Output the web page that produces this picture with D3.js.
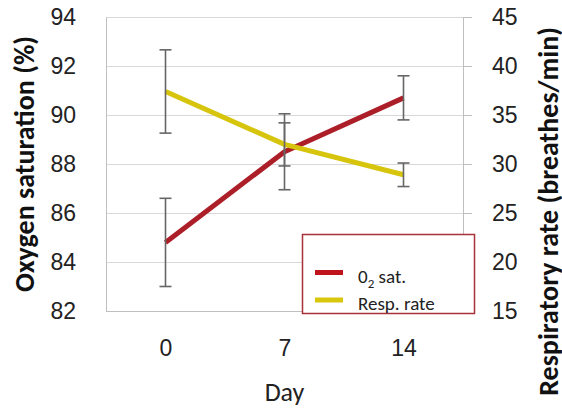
<!DOCTYPE html>
<html>
<head>
<meta charset="utf-8">
<script src="https://cdn.jsdelivr.net/npm/d3@7"></script>
<style>
  body { margin:0; background:#fff; }
  svg { font-family: Carlito, Lato, "Open Sans", sans-serif; }
</style>
</head>
<body>
<script>
// data
var days = ["0", "7", "14"];
var o2Sat = [84.8, 88.5, 90.7];
var o2Err = [1.8, 1.55, 0.9];
var respRate = [37.4, 32.0, 28.9];
var respErr = [4.25, 2.2, 1.2];
var leftTicks = [82, 84, 86, 88, 90, 92, 94];
var rightTicks = [15, 20, 25, 30, 35, 40, 45];

var W = 562, H = 412;
var pLeft = 106, pRight = 463, pTop = 17, pBottom = 311;

var svg = d3.select("body").append("svg")
  .attr("width", W).attr("height", H);

var x = d3.scalePoint().domain(days).range([pLeft, pRight]).padding(0.5);
var yL = d3.scaleLinear().domain([82, 94]).range([pBottom, pTop]);
var yR = d3.scaleLinear().domain([15, 45]).range([pBottom, pTop]);

// gridlines
svg.append("g").selectAll("line").data(leftTicks.slice(1)).enter().append("line")
  .attr("x1", pLeft).attr("x2", pRight)
  .attr("y1", function(d){ return Math.round(yL(d)) + 0.5; })
  .attr("y2", function(d){ return Math.round(yL(d)) + 0.5; })
  .attr("stroke", "#d9d9d9").attr("stroke-width", 1);

// left axis
var gL = svg.append("g").attr("transform", "translate(" + pLeft + ",0)")
  .call(d3.axisLeft(yL).tickValues(leftTicks).tickSize(0).tickPadding(30));
gL.select(".domain").attr("stroke", "#bfbfbf");
gL.selectAll("text").attr("font-size", 23).attr("fill", "#222");

// right axis
var gR = svg.append("g").attr("transform", "translate(" + pRight + ",0)")
  .call(d3.axisRight(yR).tickValues(rightTicks).tickSize(9).tickSizeOuter(0).tickPadding(20));
gR.select(".domain").attr("stroke", "#bfbfbf");
gR.selectAll(".tick line").attr("stroke", "#bfbfbf");
gR.selectAll("text").attr("font-size", 23).attr("fill", "#222");

// bottom axis
var gB = svg.append("g").attr("transform", "translate(0," + pBottom + ")")
  .call(d3.axisBottom(x).tickSize(0).tickPadding(29));
gB.select(".domain").attr("stroke", "#bfbfbf").attr("d", "M" + pLeft + ",0.5H" + pRight);
gB.selectAll("text").attr("font-size", 23).attr("fill", "#222");

// axis titles
svg.append("text").attr("transform", "translate(34," + ((pTop + pBottom) / 2) + ") rotate(-90)")
  .attr("text-anchor", "middle").attr("font-size", 28).attr("font-weight", "bold")
  .attr("fill", "#111").text("Oxygen saturation (%)");
svg.append("text").attr("transform", "translate(558,27) rotate(-90)")
  .attr("text-anchor", "end").attr("font-size", 28).attr("font-weight", "bold")
  .attr("fill", "#111").text("Respiratory rate (breathes/min)");
svg.append("text").attr("x", x("7")).attr("y", 401)
  .attr("text-anchor", "middle").attr("font-size", 26).attr("fill", "#222").text("Day");

// series
function drawSeries(vals, errs, y, color) {
  var line = d3.line().x(function(d, i){ return x(days[i]); }).y(function(d){ return y(d); });
  svg.append("path").datum(vals).attr("d", line)
    .attr("fill", "none").attr("stroke", color).attr("stroke-width", 5)
    .attr("stroke-linejoin", "round");
  var g = svg.append("g").attr("stroke", "#666").attr("stroke-width", 1.6);
  vals.forEach(function(v, i) {
    var cx = x(days[i]);
    var y1 = y(v + errs[i]), y2 = y(v - errs[i]);
    g.append("line").attr("x1", cx).attr("x2", cx).attr("y1", y1).attr("y2", y2);
    g.append("line").attr("x1", cx - 6).attr("x2", cx + 6).attr("y1", y1).attr("y2", y1);
    g.append("line").attr("x1", cx - 6).attr("x2", cx + 6).attr("y1", y2).attr("y2", y2);
  });
}
drawSeries(o2Sat, o2Err, yL, "#ad1f28");
drawSeries(respRate, respErr, yR, "#d6c50c");

// legend
var lg = svg.append("g");
lg.append("rect").attr("x", 302.5).attr("y", 234.5).attr("width", 172).attr("height", 79)
  .attr("fill", "#fff").attr("stroke", "#a8323a").attr("stroke-width", 1.5);
var items = [{ c: "#c0141c", y: 272.5 }, { c: "#d8c70c", y: 300 }];
items.forEach(function(it) {
  lg.append("line").attr("x1", 315).attr("x2", 343).attr("y1", it.y).attr("y2", it.y)
    .attr("stroke", it.c).attr("stroke-width", 5);
});
var t1 = lg.append("text").attr("x", 358).attr("y", 283).attr("font-size", 19).attr("fill", "#222");
t1.append("tspan").text("0");
t1.append("tspan").attr("dy", 5).attr("font-size", 13).text("2");
t1.append("tspan").attr("dy", -5).text(" sat.");
lg.append("text").attr("x", 358).attr("y", 310).attr("font-size", 19).attr("fill", "#222").text("Resp. rate");
</script>
</body>
</html>
